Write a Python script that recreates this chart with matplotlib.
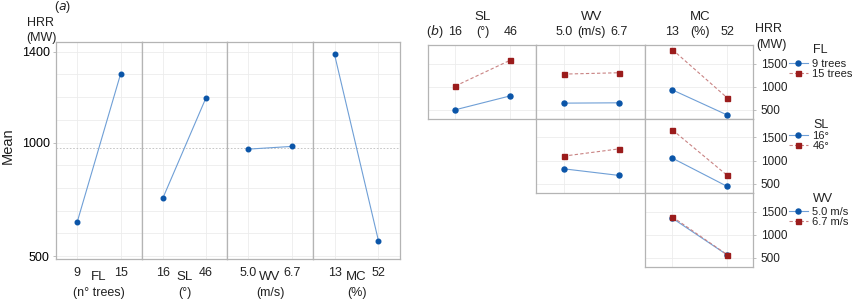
import matplotlib.pyplot as plt
from matplotlib.transforms import blended_transform_factory

W, H = 852, 300

plt.rcParams["font.family"] = ["Liberation Sans", "DejaVu Sans"]
plt.rcParams["text.color"] = "#222222"

# (a) main effects
FACTORS = ["FL", "SL", "WV", "MC"]
UNITS = ["(n° trees)", "(°)", "(m/s)", "(%)"]
LEVELS = [["9", "15"], ["16", "46"], ["5.0", "6.7"], ["13", "52"]]
MAIN_MEANS = [[651, 1304], [757, 1197], [971, 983], [1388, 567]]
GRAND_MEAN = 978
Y_LABELED = [500, 1000, 1400]

# (b) interactions: rows FL, SL, WV against columns SL, WV, MC
FL9_BY_SL = [500, 800]
FL15_BY_SL = [1014, 1571]
FL9_BY_WV = [643, 650]
FL15_BY_WV = [1271, 1300]
FL9_BY_MC = [929, 386]
FL15_BY_MC = [1800, 757]
SL16_BY_WV = [823, 680]
SL46_BY_WV = [1097, 1254]
SL16_BY_MC = [1053, 442]
SL46_BY_MC = [1664, 680]
WV50_BY_MC = [1354, 560]
WV67_BY_MC = [1383, 565]

ROW_FACTORS = ["FL", "SL", "WV"]
ROW_LABELS = [["9 trees", "15 trees"], ["16°", "46°"], ["5.0 m/s", "6.7 m/s"]]
COL_FACTORS = ["SL", "WV", "MC"]
COL_UNITS = ["(°)", "(m/s)", "(%)"]
COL_LEVELS = [["16", "46"], ["5.0", "6.7"], ["13", "52"]]
CELLS = {
    (0, 0): (FL9_BY_SL, FL15_BY_SL),
    (0, 1): (FL9_BY_WV, FL15_BY_WV),
    (0, 2): (FL9_BY_MC, FL15_BY_MC),
    (1, 1): (SL16_BY_WV, SL46_BY_WV),
    (1, 2): (SL16_BY_MC, SL46_BY_MC),
    (2, 2): (WV50_BY_MC, WV67_BY_MC),
}

BLUE = "#0b55a8"
BLUE_LINE = "#6f9fd6"
RED = "#9b1c1c"
RED_LINE = "#c98383"
FRAME = "#b4b4b4"
GRID = "#ececec"


def px_rect(x0, y0, x1, y1):
    return [x0 / W, 1 - y1 / H, (x1 - x0) / W, (y1 - y0) / H]


def fy(y):
    return 1 - y / H


def style_frame(ax):
    for spine in ax.spines.values():
        spine.set_color(FRAME)
        spine.set_linewidth(0.9)
    ax.set_axisbelow(True)


fig = plt.figure(figsize=(W / 100, H / 100), dpi=100)

# ---------- panel (a) ----------
a_edges = [56, 142, 227, 313, 400]
for i, fac in enumerate(FACTORS):
    ax = fig.add_axes(px_rect(a_edges[i], 42, a_edges[i + 1], 259))
    style_frame(ax)
    ax.set_xlim(-0.49, 1.49)
    ax.set_ylim(487, 1443)
    ax.axhline(GRAND_MEAN, color="#bdbdbd", lw=0.6, ls=(0, (2, 2)), zorder=1)
    ax.plot([0, 1], MAIN_MEANS[i], color=BLUE_LINE, lw=0.8, zorder=2)
    ax.plot([0, 1], MAIN_MEANS[i], ls="none", marker="o", ms=3.3, color=BLUE, zorder=3)
    ax.set_xticks([0, 1], LEVELS[i])
    ax.tick_params(axis="x", length=0, pad=6, labelsize=9, labelcolor="#222222")
    ax.set_yticks(Y_LABELED)
    ax.set_yticks(range(500, 1401, 100), minor=True)
    ax.grid(True, which="both", color=GRID, lw=0.6)
    ax.tick_params(axis="y", which="minor", length=0)
    if i == 0:
        ax.tick_params(axis="y", length=2.5, width=0.6, color=FRAME, labelsize=9, pad=2)
    else:
        ax.tick_params(axis="y", length=0, labelleft=False)
    tr = blended_transform_factory(ax.transData, fig.transFigure)
    ax.text(0.5, fy(277), fac, transform=tr, ha="center", va="center", fontsize=9.5)
    ax.text(0.5, fy(293), UNITS[i], transform=tr, ha="center", va="center", fontsize=9)

fig.text(8 / W, fy(146), "Mean", rotation=90, ha="center", va="center", fontsize=10.5)
fig.text(41 / W, fy(23), "HRR", ha="center", va="center", fontsize=9)
fig.text(41 / W, fy(38), "(MW)", ha="center", va="center", fontsize=9)
fig.text(63 / W, fy(7), "($\\it{a}$)", ha="center", va="center", fontsize=9)

# ---------- panel (b) ----------
b_cols = [428, 536, 645, 753]
b_rows = [45, 119, 193, 267]
legend_y = [68.7, 141.2, 216.7]
title_y = [50, 125, 199]
for (r, c), (low, high) in CELLS.items():
    ax = fig.add_axes(px_rect(b_cols[c], b_rows[r], b_cols[c + 1], b_rows[r + 1]))
    style_frame(ax)
    ax.set_xlim(-0.5, 1.47)
    ax.set_ylim(300, 1900)
    ax.set_xticks([0, 1])
    ax.set_yticks([500, 1000, 1500])
    ax.grid(True, color=GRID, lw=0.6)
    h1, = ax.plot([0, 1], low, color=BLUE_LINE, lw=0.8, marker="o", ms=3.6,
                  mfc=BLUE, mec=BLUE, zorder=3, label=ROW_LABELS[r][0])
    h2, = ax.plot([0, 1], high, color=RED_LINE, lw=0.8, ls=(0, (3, 2)), marker="s", ms=3.6,
                  mfc=RED, mec=RED, zorder=3, label=ROW_LABELS[r][1])
    if r == 0:
        ax.xaxis.tick_top()
        ax.set_xticklabels(COL_LEVELS[c])
        ax.tick_params(axis="x", length=0, pad=5, labelsize=9, labelcolor="#222222")
        tr = blended_transform_factory(ax.transData, fig.transFigure)
        ax.text(0.5, fy(32), COL_UNITS[c], transform=tr, ha="center", va="center", fontsize=9)
        ax.text(0.5, fy(17), COL_FACTORS[c], transform=tr, ha="center", va="center", fontsize=9.5)
    else:
        ax.tick_params(axis="x", length=0, labelbottom=False)
    if c == 2:
        ax.yaxis.tick_right()
        ax.tick_params(axis="y", length=2.5, width=0.6, color=FRAME, labelsize=8.5, pad=3,
                       labelcolor="#222222")
        ax.legend(handles=[h1, h2], loc="center left", bbox_to_anchor=(789 / W, fy(legend_y[r])),
                  bbox_transform=fig.transFigure, frameon=False, fontsize=8, handlelength=1.7,
                  handletextpad=0.4, labelspacing=0.0, borderpad=0, borderaxespad=0)
        fig.text(813 / W, fy(title_y[r]), ROW_FACTORS[r], ha="left", va="center", fontsize=9)
    else:
        ax.tick_params(axis="y", length=0, labelleft=False)

fig.text(435 / W, fy(32), "($\\it{b}$)", ha="center", va="center", fontsize=9)
fig.text(768 / W, fy(29), "HRR", ha="center", va="center", fontsize=9)
fig.text(771 / W, fy(45), "(MW)", ha="center", va="center", fontsize=9)

fig.savefig("out.png", dpi=100)
